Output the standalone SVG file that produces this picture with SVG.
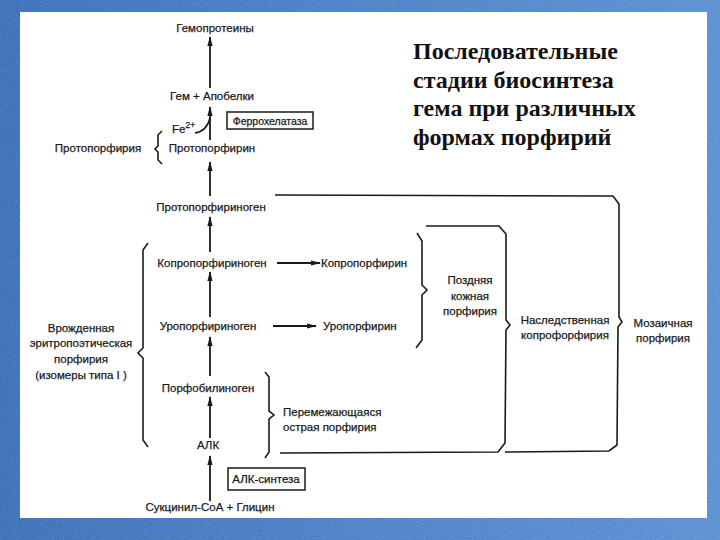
<svg xmlns="http://www.w3.org/2000/svg" width="720" height="540" viewBox="0 0 720 540">
<defs>
<linearGradient id="bg" x1="0" y1="0" x2="1" y2="0">
<stop offset="0" stop-color="#3b71b7"/>
<stop offset="0.5" stop-color="#4d82c8"/>
<stop offset="1" stop-color="#5b90d3"/>
</linearGradient>
<filter id="noise" x="0" y="0" width="100%" height="100%">
<feTurbulence type="fractalNoise" baseFrequency="0.9" numOctaves="2" seed="3" result="t"/>
<feColorMatrix in="t" type="matrix" values="0 0 0 0 1  0 0 0 0 1  0 0 0 0 1  0 0 0 0.9 -0.35"/>
</filter>
<marker id="ah" viewBox="0 0 10 6" refX="9" refY="3" markerWidth="10" markerHeight="6" markerUnits="userSpaceOnUse" orient="auto">
<path d="M0,0.4 L10,3 L0,5.6 z" fill="#1a1a1a"/>
</marker>
<style>
.t{font-family:"Liberation Sans","DejaVu Sans",Arial,sans-serif;font-size:11.5px;fill:#1a1a1a;stroke:#1a1a1a;stroke-width:0.25}
.c{text-anchor:middle}
.b{font-family:"Liberation Serif","Times New Roman",serif;font-size:24px;font-weight:bold;fill:#111}
.ln{fill:none;stroke:#1a1a1a;stroke-width:1.6}
.ar{fill:none;stroke:#1a1a1a;stroke-width:1.8;marker-end:url(#ah)}
.bx{fill:#fff;stroke:#1a1a1a;stroke-width:1.5}
</style>
</defs>
<rect x="0" y="0" width="720" height="540" fill="url(#bg)"/>
<rect x="0" y="0" width="720" height="540" filter="url(#noise)" opacity="0.35"/>
<rect x="20" y="12" width="687" height="506" fill="#fff"/>

<g id="title">
<text class="b" x="413" y="59">Последовательные</text>
<text class="b" x="413" y="88">стадии биосинтеза</text>
<text class="b" x="413" y="116">гема при различных</text>
<text class="b" x="413" y="145">формах порфирий</text>
</g>

<g id="connectors">
<line class="ar" x1="210" y1="88" x2="210" y2="37"/>
<line class="ar" x1="210" y1="140" x2="210" y2="107"/>
<line class="ar" x1="210" y1="196" x2="210" y2="162"/>
<line class="ar" x1="210" y1="252" x2="210" y2="217"/>
<line class="ar" x1="210" y1="317" x2="210" y2="272"/>
<line class="ar" x1="210" y1="376" x2="210" y2="337"/>
<line class="ar" x1="210" y1="438" x2="210" y2="397"/>
<line class="ar" x1="210" y1="501" x2="210" y2="456"/>
<line class="ar" x1="277" y1="263" x2="320" y2="263"/>
<line class="ar" x1="273" y1="326" x2="316" y2="326"/>
<path class="ln" d="M195,133 Q207,131 210,118"/>
</g>

<g id="brackets">
<path class="ln" d="M162,131 L158,135 L158,146 L155,149 L158,152 L158,160 L162,164"/>
<path class="ln" d="M148,243 L143,250 L143,348 L138,353 L143,358 L143,440 L148,447"/>
<path class="ln" d="M417,233 L422,241 L422,285 L427,290 L422,295 L422,340 L416,348"/>
<path class="ln" d="M265,372 L269,377 L269,411 L274,415 L269,419 L269,452 L265,458"/>
<path class="ln" d="M426,226 L499,226 L506,234 L506,320 L510,325 L506,330 L505,443 L498,452 L280,453"/>
<path class="ln" d="M275,195 L613,196 L619,204 L619,317 L622,322 L618,327 L617,445 L609,451 L505,452"/>
</g>

<g id="n-hemoproteins"><text class="t c" x="215" y="32">Гемопротеины</text></g>
<g id="n-heme"><text class="t c" x="212" y="100">Гем + Апобелки</text></g>
<g id="n-fe"><text class="t" x="172" y="133">Fe<tspan font-size="8.5" dy="-5">2+</tspan></text></g>
<g id="n-ferrochelatase">
<rect class="bx" x="227" y="112" width="86" height="17"/>
<text class="t c" x="270" y="124.5" style="font-size:10.5px">Феррохелатаза</text>
</g>
<g id="n-protoporphyria"><text class="t c" x="98" y="152">Протопорфирия</text></g>
<g id="n-protoporphyrin"><text class="t c" x="212" y="152">Протопорфирин</text></g>
<g id="n-protoporphyrinogen"><text class="t c" x="211" y="211">Протопорфириноген</text></g>
<g id="n-coproporphyrinogen"><text class="t c" x="212" y="267">Копропорфириноген</text></g>
<g id="n-coproporphyrin"><text class="t" x="321" y="267">Копропорфирин</text></g>
<g id="n-uroporphyrinogen"><text class="t c" x="208" y="330">Уропорфириноген</text></g>
<g id="n-uroporphyrin"><text class="t" x="323" y="330">Уропорфирин</text></g>
<g id="n-porphobilinogen"><text class="t c" x="208" y="392">Порфобилиноген</text></g>
<g id="n-ala"><text class="t c" x="208" y="449">АЛК</text></g>
<g id="n-ala-synthase">
<rect class="bx" x="228" y="468" width="77" height="22"/>
<text class="t c" x="266" y="483">АЛК-синтеза</text>
</g>
<g id="n-succinyl"><text class="t c" x="210" y="511">Сукцинил-СоА + Глицин</text></g>
<g id="n-cep">
<text class="t c" x="81" y="332">Врожденная</text>
<text class="t c" x="81" y="347">эритропоэтическая</text>
<text class="t c" x="81" y="363">порфирия</text>
<text class="t c" x="81" y="379">(изомеры типа I )</text>
</g>
<g id="n-pct">
<text class="t c" x="470" y="284">Поздняя</text>
<text class="t c" x="470" y="300">кожная</text>
<text class="t c" x="470" y="315">порфирия</text>
</g>
<g id="n-hcp">
<text class="t c" x="565" y="324">Наследственная</text>
<text class="t c" x="565" y="339">копрофорфирия</text>
</g>
<g id="n-vp">
<text class="t c" x="663" y="327">Мозаичная</text>
<text class="t c" x="663" y="342">порфирия</text>
</g>
<g id="n-aip">
<text class="t" x="283" y="416">Перемежающаяся</text>
<text class="t" x="283" y="431">острая порфирия</text>
</g>
</svg>
